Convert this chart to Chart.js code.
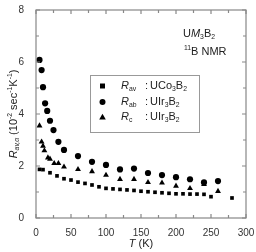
<!DOCTYPE html>
<html><head><meta charset="utf-8">
<script src="https://cdn.jsdelivr.net/npm/chart.js@4/dist/chart.umd.min.js"></script>
<style>html,body{margin:0;padding:0;background:#fff}#wrap{width:256px;height:252px}</style>
</head><body><div id="wrap"><canvas id="c" width="256" height="252"></canvas></div>
<script>
const xTicks = [0,50,100,150,200,250,300];
const yTicks = [0,2,4,6,8];
const tAv = [5,10,20,30,40,50,60,70,80,90,100,110,120,130,140,150,160,170,180,190,200,210,220,230,240,250,280];
const vAv = [1.87,1.86,1.74,1.62,1.51,1.46,1.38,1.33,1.27,1.2,1.14,1.12,1.1,1.08,1.06,1.03,1.01,0.99,0.97,0.95,0.93,0.93,0.92,0.92,0.91,0.82,0.77];
const tAb = [5,8,10,13,16,20,25,32,40,60,80,100,120,140,160,180,200,220,240,260];
const vAb = [6.08,5.69,5.03,4.41,4.12,3.74,3.38,2.93,2.62,2.38,2.16,2.04,1.87,1.9,1.73,1.65,1.57,1.49,1.37,1.42];
const tC = [5,8,10,12,17,20,26,32,40,60,80,100,120,140,160,180,200,220,240,260];
const vC = [3.55,2.93,2.77,2.59,2.32,2.27,2.1,2.1,1.97,1.87,1.79,1.65,1.49,1.49,1.37,1.35,1.23,1.14,1.3,1.03];
const seriesNames = ['R_av : UCo3B2','R_ab : UIr3B2','R_c : UIr3B2'];

const FONT = '"Liberation Sans", Arial, sans-serif';
const TXT = '#222';
const AX = '#888';

function pts(xs, ys){ return xs.map((x,i)=>({x:x,y:ys[i]})); }

function rich(ctx, parts, x, y, base){
  let w = 0;
  const sized = parts.map(p=>{
    const sz = p.o ? base*0.62 : base;
    const f = (p.i?'italic ':'') + sz + 'px ' + FONT;
    ctx.font = f;
    const pw = ctx.measureText(p.t).width;
    w += pw;
    return {p, f, pw, sz};
  });
  return {w, draw:(x0)=>{
    let cx = x0;
    sized.forEach(s=>{
      ctx.font = s.f;
      let dy = 0;
      if (s.p.o==='sub') dy = base*0.3;
      if (s.p.o==='sup') dy = -base*0.38;
      ctx.fillText(s.p.t, cx, y+dy);
      cx += s.pw;
    });
  }};
}

const deco = {
  id:'deco',
  afterDraw(chart){
    const ctx = chart.ctx, a = chart.chartArea;
    const xs = chart.scales.x, ys = chart.scales.y;
    ctx.save();
    ctx.strokeStyle = AX; ctx.lineWidth = 1.2;
    ctx.strokeRect(a.left, a.top, a.right-a.left, a.bottom-a.top);
    ctx.beginPath();
    for (let v=0; v<=300; v+=25){
      const px = xs.getPixelForValue(v);
      const L = (v%50===0)?4:3;
      ctx.moveTo(px, a.bottom); ctx.lineTo(px, a.bottom-L);
      ctx.moveTo(px, a.top); ctx.lineTo(px, a.top+L);
    }
    for (let v=0; v<=8; v+=1){
      const py = ys.getPixelForValue(v);
      const L = (v%2===0)?4:3;
      ctx.moveTo(a.left, py); ctx.lineTo(a.left+L, py);
      ctx.moveTo(a.right, py); ctx.lineTo(a.right-L, py);
    }
    ctx.stroke();

    ctx.fillStyle = TXT;
    ctx.textBaseline = 'middle';
    ctx.textAlign = 'left';
    let r = rich(ctx,[{t:'U'},{t:'M',i:1},{t:'3',o:'sub'},{t:'B'},{t:'2',o:'sub'}],0,34,11);
    r.draw(183);
    r = rich(ctx,[{t:'11',o:'sup'},{t:'B NMR'}],0,52,11);
    r.draw(184);

    ctx.strokeStyle = '#999'; ctx.lineWidth = 1;
    ctx.strokeRect(90.5, 75.5, 109, 57);
    const rows = [86, 102, 117];
    const subs = ['av','ab','c'];
    const mats = [[{t:'UCo'},{t:'3',o:'sub'},{t:'B'},{t:'2',o:'sub'}],[{t:'UIr'},{t:'3',o:'sub'},{t:'B'},{t:'2',o:'sub'}],[{t:'UIr'},{t:'3',o:'sub'},{t:'B'},{t:'2',o:'sub'}]];
    rows.forEach((yy,i)=>{
      ctx.fillStyle = '#000';
      ctx.beginPath();
      if (i===0){ ctx.rect(100, yy-2.5, 5, 5); }
      else if (i===1){ ctx.arc(102.5, yy, 3, 0, Math.PI*2); }
      else { ctx.moveTo(102.5, yy-3.3); ctx.lineTo(105.8, yy+2.6); ctx.lineTo(99.2, yy+2.6); ctx.closePath(); }
      ctx.fill();
      ctx.fillStyle = TXT;
      let rr = rich(ctx,[{t:'R',i:1},{t:subs[i],o:'sub'}],0,yy,11);
      rr.draw(121);
      ctx.font = '11px '+FONT;
      ctx.fillText(':', 145, yy);
      rr = rich(ctx, mats[i], 0, yy, 11);
      rr.draw(150);
    });

    ctx.save();
    ctx.translate(14, (a.top+a.bottom)/2);
    ctx.rotate(-Math.PI/2);
    ctx.textBaseline = 'middle';
    r = rich(ctx,[{t:'R',i:1},{t:'av,α',o:'sub',i:1},{t:' (10'},{t:'-2',o:'sup'},{t:' sec'},{t:'-1',o:'sup'},{t:'K'},{t:'-1',o:'sup'},{t:')'}],0,0,11);
    r.draw(-r.w/2);
    ctx.restore();

    r = rich(ctx,[{t:'T',i:1},{t:' (K)'}],0,244,11);
    r.draw((a.left+a.right)/2 - r.w/2);
    ctx.restore();
  }
};

const ds = (label, data, style, rad) => ({label, data, pointStyle:style, pointRadius:rad, pointHoverRadius:rad, backgroundColor:'#000', borderColor:'#000', borderWidth:0, showLine:false});

new Chart(document.getElementById('c'), {
  type:'scatter',
  data:{datasets:[
    ds(seriesNames[0], pts(tAv,vAv), 'rect', 2.6),
    ds(seriesNames[1], pts(tAb,vAb), 'circle', 3.1),
    ds(seriesNames[2], pts(tC,vC), 'triangle', 3.4)
  ]},
  options:{
    responsive:false, animation:false,
    layout:{padding:{top:10,right:10,left:0,bottom:0}},
    plugins:{legend:{display:false}, tooltip:{enabled:false}},
    scales:{
      x:{type:'linear', min:0, max:300,
        afterBuildTicks(s){ s.ticks = xTicks.map(v=>({value:v})); },
        afterFit(s){ s.height = 34; },
        grid:{display:false}, border:{display:false},
        ticks:{font:{size:10,family:FONT}, color:'#333', padding:1, maxRotation:0}},
      y:{type:'linear', min:0, max:8,
        afterBuildTicks(s){ s.ticks = yTicks.map(v=>({value:v})); },
        afterFit(s){ s.width = 36; },
        grid:{display:false}, border:{display:false},
        ticks:{font:{size:10,family:FONT}, color:'#333', padding:4}}
    }
  },
  plugins:[deco]
});
</script></body></html>
